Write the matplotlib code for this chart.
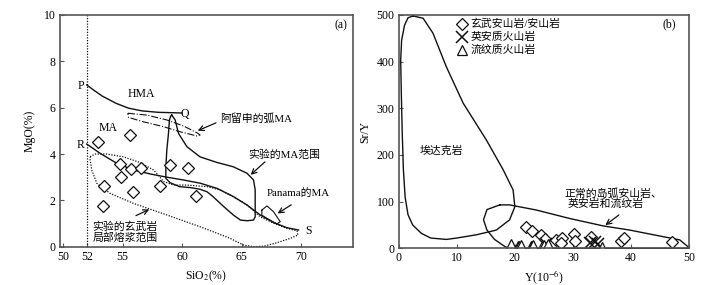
import numpy as np
import matplotlib
matplotlib.use("Agg")
import matplotlib.pyplot as plt

plt.rcParams['font.family'] = ['Liberation Serif', 'Noto Sans CJK SC', 'DejaVu Sans']
plt.rcParams['mathtext.fontset'] = 'stix'
plt.rcParams['axes.unicode_minus'] = False

# ---- panel (a): SiO2 vs MgO ----
a_sio2 = [52.97, 55.64, 54.8, 55.72, 56.54, 54.88, 53.48, 55.92, 53.4, 58.16, 59.0, 60.49, 61.16]
a_mgo = [4.51, 4.83, 3.56, 3.36, 3.39, 2.99, 2.64, 2.36, 1.74, 2.64, 3.53, 3.39, 2.2]

pq_x = [52.0, 52.6, 53.3, 54.45, 55.5, 56.66, 58.0, 59.98]
pq_y = [6.98, 6.75, 6.5, 6.19, 5.98, 5.86, 5.8, 5.77]

rs_x = [52.0, 53.12, 54.52, 55.92, 57.32, 58.72, 60.12, 61.52, 62.92, 64.32, 65.45, 66.56, 67.7, 68.8, 69.78]
rs_y = [4.43, 4.03, 3.6, 3.31, 3.14, 3.0, 2.88, 2.74, 2.52, 2.16, 1.8, 1.37, 1.04, 0.82, 0.72]

aleut_x = [55.45, 57.04, 58.72, 60.12, 61.24, 61.52, 61.24, 59.84, 58.44, 56.76, 55.5, 55.45]
aleut_y = [5.76, 5.68, 5.47, 5.21, 4.92, 4.82, 4.78, 4.96, 5.18, 5.39, 5.58, 5.76]

ma_x = [59.14, 59.42, 59.7, 60.4, 61.5, 62.9, 64.3, 65.45, 66.0, 66.14, 66.14, 66.14, 66.0,
        65.45, 64.9, 64.3, 63.5, 62.6, 62.1, 61.5, 60.7, 59.8, 59.0, 58.64, 58.64, 58.72,
        58.86, 58.94, 59.06, 59.14]
ma_y = [5.68, 5.47, 4.89, 4.32, 3.88, 3.64, 3.45, 3.17, 2.88, 2.45, 1.73, 1.29, 1.15,
        1.12, 1.15, 1.37, 1.73, 2.16, 2.37, 2.48, 2.55, 2.59, 2.76, 2.95, 3.45, 4.17,
        4.89, 5.47, 5.65, 5.68]

basalt_x = [52.28, 52.7, 53.68, 55.08, 56.48, 57.6, 58.0, 58.44, 59.28, 60.4, 62.1, 63.2, 64.3,
            65.45, 66.56, 67.7, 68.8, 69.65, 69.73, 69.08, 67.97, 66.84, 66.0, 65.16, 64.04,
            61.52, 58.72, 55.92, 53.96, 52.84, 52.42, 52.28, 52.28]
basalt_y = [3.88, 4.0, 4.0, 3.88, 3.63, 3.31, 3.09, 2.81, 2.66, 2.66, 2.59, 2.45, 2.16,
            1.8, 1.29, 1.01, 0.79, 0.69, 0.5, 0.36, 0.17, 0.02, 0.0, 0.07, 0.36,
            0.86, 1.37, 1.87, 2.3, 2.74, 3.31, 3.74, 3.88]

panama_x = [66.7, 67.13, 67.68, 68.24, 67.97, 67.13, 66.7, 66.7]
panama_y = [1.58, 1.76, 1.51, 1.08, 0.98, 1.22, 1.36, 1.58]

# ---- panel (b): Y vs Sr/Y ----
adakite_x = [2.47, 4.2, 5.9, 8.2, 11.1, 15.1, 18.0, 19.7, 20.0, 19.1, 16.8, 13.4, 10.0, 8.2,
             5.5, 3.9, 2.4, 1.6, 1.1, 0.8, 0.6, 0.45, 0.34, 0.5, 1.0, 1.6, 2.47]
adakite_y = [498, 493, 461, 389, 311, 232, 168, 125, 89, 61, 39, 29, 22, 19,
             22, 32, 50, 72, 110, 170, 250, 330, 404, 446, 478, 494, 498]

arc_x = [17.4, 19.1, 23.7, 29.4, 35.2, 39.8, 45.5, 48.4, 49.8, 50.0, 19.1, 18.3, 16.5, 15.2, 14.6, 15.2, 17.4]
arc_y = [93, 93, 82, 64, 48, 39, 25, 18, 3.6, 0, 0, 3.6, 19, 39, 61, 83, 93]

dia_y = [22.0, 23.0, 24.5, 25.2, 27.1, 28.1, 27.9, 30.2, 30.3, 33.1, 38.3, 38.8, 47.0]
dia_sry = [46, 38, 28.5, 19, 18, 22, 12, 31, 16, 25, 16, 21, 13]

dac_y = [25.4, 32.9, 33.8, 34.4]
dac_sry = [10, 11, 14, 9]

rhy_y = [19.3, 20.5, 20.8, 21.0, 22.8, 23.0, 23.2, 24.7, 25.0, 25.7, 35.0]
rhy_sry = [10, 5, 4, 6, 5, 4, 6, 4, 6, 10, 3]

legend_labels = ['玄武安山岩/安山岩', '英安质火山岩', '流纹质火山岩']

fig = plt.figure(figsize=(7.26, 2.85), dpi=100)
ax1 = fig.add_axes([0.0826, 0.1344, 0.4036, 0.8130])
ax2 = fig.add_axes([0.5492, 0.1288, 0.3999, 0.8186])

lc = '#111111'
fs = 8.5   # latin text
cfs = 7.8  # chinese text
ms_d = 6.5

for ax in (ax1, ax2):
    for s in ax.spines.values():
        s.set_color('#555555')
        s.set_linewidth(1.2)
    ax.tick_params(direction='in', length=3, width=0.8, color='#555555', labelsize=fs, pad=3)

# panel (a)
ax1.plot(pq_x, pq_y, color=lc, lw=1.0)
ax1.plot(rs_x, rs_y, color=lc, lw=1.0)
ax1.plot(aleut_x, aleut_y, color=lc, lw=0.8, ls='-.')
ax1.plot(ma_x, ma_y, color=lc, lw=1.0)
ax1.plot(basalt_x, basalt_y, color=lc, lw=0.9, ls=(0, (1, 1.2)))
ax1.plot(panama_x, panama_y, color=lc, lw=0.8)
ax1.axvline(52, color=lc, lw=0.9, ls=(0, (1, 1.2)))
ax1.plot(a_sio2, a_mgo, ls='none', marker='D', ms=ms_d, mfc='white', mec=lc, mew=0.9)

ax1.set_xlim(49.75, 74.35)
ax1.set_ylim(0, 10)
ax1.set_xticks([50, 52, 55, 60, 65, 70])
ax1.set_yticks([0, 2, 4, 6, 8, 10])
ax1.set_xlabel('SiO$_2$(%)', fontsize=fs, labelpad=4)
ax1.set_ylabel('MgO(%)', fontsize=fs, labelpad=6)

ax1.text(51.75, 6.94, 'P', fontsize=fs, ha='right', va='center')
ax1.text(51.8, 4.37, 'R', fontsize=fs, ha='right', va='center')
ax1.text(56.62, 6.58, 'HMA', fontsize=fs, ha='center', va='center')
ax1.text(53.8, 5.11, 'MA', fontsize=fs, ha='center', va='center')
ax1.text(60.26, 5.71, 'Q', fontsize=fs, ha='center', va='center')
ax1.text(70.35, 0.69, 'S', fontsize=fs, ha='left', va='center')
ax1.text(73.85, 9.57, '(a)', fontsize=fs, ha='right', va='center')
ax1.text(63.2, 5.54, '阿留申的弧MA', fontsize=cfs, ha='left', va='center')
ax1.text(65.58, 3.96, '实验的MA范围', fontsize=cfs, ha='left', va='center')
ax1.text(67.13, 2.3, 'Panama的MA', fontsize=cfs, ha='left', va='center')
ax1.text(52.5, 0.88, '实验的玄武岩', fontsize=cfs, ha='left', va='center')
ax1.text(52.5, 0.40, '局部熔浆范围', fontsize=cfs, ha='left', va='center')

arw = dict(arrowstyle='->', color=lc, lw=0.9, mutation_scale=9)
ax1.annotate('', xy=(61.1, 4.96), xytext=(63.06, 5.39), arrowprops=arw)
ax1.annotate('', xy=(65.58, 3.02), xytext=(67.13, 3.74), arrowprops=arw)
ax1.annotate('', xy=(67.82, 1.37), xytext=(69.36, 1.87), arrowprops=arw)
ax1.annotate('', xy=(57.46, 1.66), xytext=(55.92, 1.29), arrowprops=arw)

# panel (b)
ax2.plot(adakite_x, adakite_y, color=lc, lw=1.0)
ax2.plot(arc_x, arc_y, color=lc, lw=1.0, clip_on=False)
ax2.plot(dia_y, dia_sry, ls='none', marker='D', ms=ms_d, mfc='white', mec=lc, mew=0.9)
ax2.plot(dac_y, dac_sry, ls='none', marker='x', ms=8, mec=lc, mew=1.1)
ax2.plot(rhy_y, rhy_sry, ls='none', marker='^', ms=6.5, mfc='white', mec=lc, mew=0.9)

ax2.plot([10.9], [481], ls='none', marker='D', ms=ms_d, mfc='white', mec=lc, mew=0.9)
ax2.plot([10.9], [453], ls='none', marker='x', ms=8, mec=lc, mew=1.1)
ax2.plot([10.9], [426], ls='none', marker='^', ms=6.5, mfc='white', mec=lc, mew=0.9)
for yy, lab in zip([481, 453, 426], legend_labels):
    ax2.text(12.4, yy, lab, fontsize=cfs, ha='left', va='center')

ax2.set_xlim(0, 50)
ax2.set_ylim(0, 500)
ax2.set_xticks([0, 10, 20, 30, 40, 50])
ax2.set_yticks([0, 100, 200, 300, 400, 500])
ax2.set_xlabel('Y(10$^{-6}$)', fontsize=fs, labelpad=3)
ax2.set_ylabel('Sr/Y', fontsize=fs, labelpad=4)

ax2.text(7.35, 209, '埃达克岩', fontsize=cfs, ha='center', va='center')
ax2.text(28.6, 118, '正常的岛弧安山岩、', fontsize=cfs, ha='left', va='center')
ax2.text(29.0, 95, '英安岩和流纹岩', fontsize=cfs, ha='left', va='center')
ax2.text(47.8, 481, '(b)', fontsize=fs, ha='right', va='center')
ax2.annotate('', xy=(35.2, 46), xytext=(38.3, 75), arrowprops=arw)

fig.savefig('out.png', dpi=100)
